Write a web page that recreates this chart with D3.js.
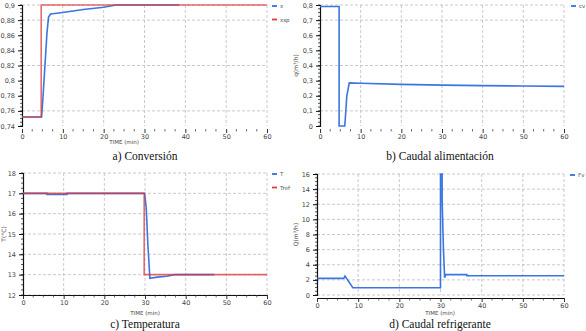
<!DOCTYPE html>
<html><head><meta charset="utf-8">
<script src="https://cdn.jsdelivr.net/npm/d3@7"></script>
<style>html,body{margin:0;padding:0;background:#fff;}svg{display:block;}</style>
</head><body>
<svg id="c" width="586" height="331"></svg>
<script>
// ---- data ----
const xTicks = [0, 10, 20, 30, 40, 50, 60];

// a) Conversión
const aYTicks = [0.74, 0.76, 0.78, 0.8, 0.82, 0.84, 0.86, 0.88, 0.9];
const aGrid = [0.76, 0.82, 0.88, 0.9];
const aT = [0, 4.8, 5.1, 5.6, 6.1, 6.5, 7, 10, 15, 20, 23, 38.5];
const aX = [0.752, 0.752, 0.775, 0.818, 0.862, 0.884, 0.888, 0.890, 0.894, 0.897, 0.9, 0.9];
const aSpT = [0, 4.7, 4.7, 60];
const aSp = [0.752, 0.752, 0.9, 0.9];

// b) Caudal alimentación
const bYTicks = [0, 0.1, 0.2, 0.3, 0.4, 0.5, 0.6, 0.7, 0.8];
const bGrid = [0.1, 0.4, 0.7, 0.8];
const bT = [0, 4.7, 4.7, 6.1, 6.6, 7.2, 10, 20, 30, 40, 50, 60];
const bQ = [0.79, 0.79, 0, 0, 0.2, 0.285, 0.283, 0.275, 0.27, 0.267, 0.264, 0.262];

// c) Temperatura
const cYTicks = [12, 13, 14, 15, 16, 17, 18];
const cGrid = [12, 13, 14, 15, 16, 17, 18];
const cT = [0, 5.9, 5.9, 10.8, 10.8, 29.9, 30.3, 30.7, 31.2, 33, 35.3, 37.3, 47];
const cTemp = [17, 17, 16.95, 16.95, 17, 17, 16.3, 14.5, 12.82, 12.88, 12.92, 13, 13];
const cRefT = [0, 29.8, 29.8, 60];
const cRef = [17, 17, 13, 13];

// d) Caudal refrigerante
const dYTicks = [0, 2, 4, 6, 8, 10, 12, 14, 16];
const dGrid = [0, 2, 4, 6, 8, 10, 12, 14, 16];
const dT = [0, 6.5, 6.8, 8.7, 30, 30, 30.4, 30.4, 30.7, 31, 31.3, 36.4, 36.4, 60];
const dQ = [2.2, 2.2, 2.5, 0.95, 0.95, 16, 16, 12.5, 6.3, 2.3, 2.7, 2.7, 2.55, 2.55];

const BLUE = "#2f6fe0", RED = "#e0393b";
const svg = d3.select("#c");
const fmt = v => String(+v.toFixed(2)).replace(".", ",");

function panel(o) {
  const x = d3.scaleLinear().domain([0, 60]).range([o.x0, o.x1]);
  const y = d3.scaleLinear().domain(o.yDom).range([o.y1, o.y0]);
  const g = svg.append("g");
  // grid
  g.selectAll(".vg").data(xTicks.slice(1)).join("line")
    .attr("x1", d => x(d)).attr("x2", d => x(d)).attr("y1", o.y0).attr("y2", o.y1)
    .attr("stroke", "#bdbdbd").attr("stroke-width", 0.8).attr("stroke-dasharray", "3,2");
  g.selectAll(".hg").data(o.grid).join("line")
    .attr("x1", o.x0).attr("x2", o.x1).attr("y1", d => y(d)).attr("y2", d => y(d))
    .attr("stroke", "#bdbdbd").attr("stroke-width", 0.8).attr("stroke-dasharray", "3,2");
  // x axis
  const xa = g.append("g").attr("transform", `translate(0,${o.y1 + o.xOff})`)
    .call(d3.axisBottom(x).tickValues(xTicks).tickSize(4).tickFormat(d3.format("d")));
  xa.select(".domain").attr("stroke", o.solidX ? "#111" : "none");
  xa.selectAll("text").attr("font-size", 6.5).attr("font-family", "DejaVu Sans").attr("fill", "#444").attr("dy", "0.5em");
  xa.selectAll("line").attr("stroke", "#333");
  const minor = d3.range(0, 60.01, 2.5).filter(v => v % 10 !== 0);
  xa.selectAll(".mn").data(minor).join("line").attr("x1", d => x(d)).attr("x2", d => x(d))
    .attr("y1", 0).attr("y2", 2.5).attr("stroke", "#333").attr("stroke-width", 0.7);
  // y axis
  const ya = g.append("g").attr("transform", `translate(${o.x0},0)`)
    .call(d3.axisLeft(y).tickValues(o.yTicks).tickSize(4).tickFormat(o.fmt));
  ya.select(".domain").attr("stroke", "#111").attr("stroke-width", 1.2);
  ya.selectAll("text").attr("font-size", 6.5).attr("font-family", "DejaVu Sans").attr("fill", "#444");
  ya.selectAll("line").attr("stroke", "#111");
  const step = (o.yTicks[1] - o.yTicks[0]) / 4;
  const yMinor = d3.range(o.yDom[0], o.yDom[1] + 1e-9, step);
  ya.selectAll(".mn").data(yMinor).join("line").attr("x1", 0).attr("x2", -2)
    .attr("y1", d => y(d)).attr("y2", d => y(d)).attr("stroke", "#111").attr("stroke-width", 0.7);
  // series (drawn in draw order; red reference blended on top)
  const line = d3.line().x(d => x(d[0])).y(d => y(d[1]));
  o.series.forEach(s => {
    g.append("path").datum(d3.zip(s.t, s.v)).attr("d", line)
      .attr("fill", "none").attr("stroke", s.c).attr("stroke-width", 1.6)
      .attr("stroke-opacity", s.c === RED ? 0.75 : 0.95);
  });
  // legend (in legend order)
  o.series.slice().sort((a, b) => a.li - b.li).forEach((s, i) => {
    const ly = o.y0 + 1 + i * 13.5;
    g.append("line").attr("x1", o.lx).attr("x2", o.lx + 5).attr("y1", ly).attr("y2", ly)
      .attr("stroke", s.c).attr("stroke-width", 1.8);
    g.append("text").attr("x", o.lx + 8).attr("y", ly + 2).text(s.name)
      .attr("font-size", 5.5).attr("font-family", "DejaVu Sans").attr("fill", "#555");
  });
  // y label
  if (o.ylab) {
    g.append("text").attr("transform", `translate(${o.ylabX},${(o.y0 + o.y1) / 2}) rotate(-90)`)
      .attr("text-anchor", "middle").attr("font-size", 6).attr("font-family", "DejaVu Sans")
      .attr("fill", "#444").text(o.ylab);
  }
  if (o.xlab) {
    g.append("text").attr("x", o.xlabX).attr("y", o.xlabY).attr("text-anchor", "middle")
      .attr("font-size", 5.5).attr("font-family", "DejaVu Sans").attr("fill", "#444").text(o.xlab);
  }
  g.append("text").attr("x", o.capX).attr("y", o.capY).attr("text-anchor", "middle")
    .attr("font-size", 11.5).attr("font-family", "Liberation Serif").attr("fill", "#111").text(o.cap);
}

panel({x0: 22, x1: 267, y0: 5, y1: 126, yDom: [0.74, 0.9], yTicks: aYTicks, grid: aGrid, fmt: fmt,
  xOff: 3, solidX: false,
  series: [{t: aT, v: aX, c: BLUE, name: "x", li: 0}, {t: aSpT, v: aSp, c: RED, name: "xsp", li: 1}],
  lx: 272, xlab: "TIME (min)", xlabX: 124, xlabY: 144, cap: "a) Conversión", capX: 145, capY: 160});

panel({x0: 320, x1: 564, y0: 5, y1: 126, yDom: [0, 0.8], yTicks: bYTicks, grid: bGrid, fmt: fmt,
  xOff: 3, solidX: false,
  series: [{t: bT, v: bQ, c: BLUE, name: "cv", li: 0}],
  lx: 571, ylab: "q(m³/h)", ylabX: 298, cap: "b) Caudal alimentación", capX: 440, capY: 160});

panel({x0: 23, x1: 267, y0: 173, y1: 295, yDom: [12, 18], yTicks: cYTicks, grid: cGrid, fmt: d3.format("d"),
  xOff: 0, solidX: true,
  series: [{t: cT, v: cTemp, c: BLUE, name: "T", li: 0}, {t: cRefT, v: cRef, c: RED, name: "Tref", li: 1}],
  lx: 272, ylab: "T(°C)", ylabX: 6, xlab: "TIME (min)", xlabX: 145, xlabY: 315, cap: "c) Temperatura", capX: 145, capY: 328});

panel({x0: 317, x1: 564, y0: 174, y1: 295, yDom: [0, 16], yTicks: dYTicks, grid: dGrid, fmt: d3.format("d"),
  xOff: 3, solidX: true,
  series: [{t: dT, v: dQ, c: BLUE, name: "Fv", li: 0}],
  lx: 570, ylab: "Q(m³/h)", ylabX: 298, xlab: "TIME (min)", xlabX: 440, xlabY: 315, cap: "d) Caudal refrigerante", capX: 440, capY: 328});
</script>
</body></html>
